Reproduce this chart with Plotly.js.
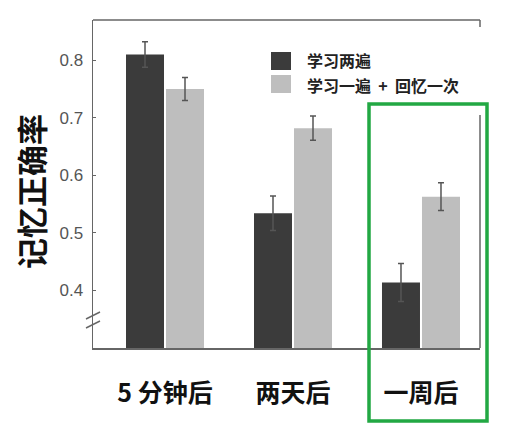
<!DOCTYPE html>
<html>
<head>
<meta charset="utf-8">
<script src="https://cdn.plot.ly/plotly-3.0.1.min.js"></script>
<style>
  body { margin: 0; background: #fff; }
  #chart { width: 511px; height: 445px; }
</style>
</head>
<body>
<div id="chart"></div>
<script>
// data
var categories = ['5 分钟后', '两天后', '一周后'];
var seriesNames = ['学习两遍', '学习一遍 + 回忆一次'];
var studyTwice = [0.81, 0.534, 0.414];
var studyTwiceErr = [0.022, 0.03, 0.033];
var studyRecall = [0.75, 0.682, 0.563];
var studyRecallErr = [0.02, 0.021, 0.024];
var yTicks = [0.4, 0.5, 0.6, 0.7, 0.8];

var darkColor = '#3b3b3b';
var lightColor = '#bebebe';
var cjk = '"Noto Sans CJK SC", "Noto Sans", sans-serif';

var xIdx = categories.map(function(c, i) { return i; });

var trace1 = {
    x: xIdx,
    y: studyTwice,
    name: seriesNames[0],
    type: 'bar',
    marker: { color: darkColor },
    error_y: { type: 'data', array: studyTwiceErr, color: '#555', thickness: 1.5, width: 3 },
    hoverinfo: 'skip'
};

var trace2 = {
    x: xIdx,
    y: studyRecall,
    name: seriesNames[1],
    type: 'bar',
    marker: { color: lightColor },
    error_y: { type: 'data', array: studyRecallErr, color: '#555', thickness: 1.5, width: 3 },
    hoverinfo: 'skip'
};

// paper helpers (plot area is 387 x 328 px, origin at 93,348)
function px(v) { return (v - 93) / 387; }
function py(v) { return (348 - v) / 328; }

var axisLine = { color: '#666', width: 1.5 };

var shapes = [
    // top spine and the broken right spine
    { type: 'line', xref: 'paper', yref: 'paper', x0: 0, x1: 1, y0: 1, y1: 1, line: axisLine },
    { type: 'line', xref: 'paper', yref: 'paper', x0: 1, x1: 1, y0: 1, y1: py(27), line: axisLine },
    { type: 'line', xref: 'paper', yref: 'paper', x0: 1, x1: 1, y0: 0, y1: py(115), line: axisLine },
    // axis break marks
    { type: 'line', xref: 'paper', yref: 'paper', x0: px(86), x1: px(100), y0: py(319), y1: py(312), line: axisLine },
    { type: 'line', xref: 'paper', yref: 'paper', x0: px(86), x1: px(100), y0: py(328), y1: py(321), line: axisLine },
    // legend swatches
    { type: 'rect', xref: 'paper', yref: 'paper', x0: px(271), x1: px(291), y0: py(52), y1: py(70),
      fillcolor: darkColor, line: { width: 0 } },
    { type: 'rect', xref: 'paper', yref: 'paper', x0: px(271), x1: px(291), y0: py(75), y1: py(93),
      fillcolor: lightColor, line: { width: 0 } },
    // green highlight box
    { type: 'rect', xref: 'paper', yref: 'paper', x0: px(369), x1: px(487), y0: py(104), y1: py(421),
      line: { color: '#22a843', width: 3.5 } }
];

var annotations = [
    { xref: 'paper', yref: 'paper', x: px(305), y: py(60), xanchor: 'left', yanchor: 'middle',
      text: '<b>' + seriesNames[0] + '</b>', showarrow: false,
      font: { family: cjk, size: 16, color: '#222' } },
    { xref: 'paper', yref: 'paper', x: px(305), y: py(85), xanchor: 'left', yanchor: 'middle',
      text: '<b>' + seriesNames[1].replace(' + ', '  +  ') + '</b>', showarrow: false,
      font: { family: cjk, size: 16, color: '#222' } },
    { xref: 'paper', yref: 'paper', x: px(30), y: py(191), xanchor: 'center', yanchor: 'middle',
      textangle: -90, text: '<b>记忆正确率</b>', showarrow: false,
      font: { family: cjk, size: 31, color: '#111' } }
];

var layout = {
    width: 511,
    height: 445,
    margin: { l: 93, r: 31, t: 20, b: 97 },
    paper_bgcolor: '#fff',
    plot_bgcolor: '#fff',
    showlegend: false,
    barmode: 'group',
    bargap: 0.375,
    bargroupgap: 0.05,
    xaxis: {
        range: [-0.5625, 2.461],
        tickmode: 'array',
        tickvals: xIdx,
        ticktext: categories.map(function(c) { return '<b>' + c + '</b>'; }),
        tickfont: { family: cjk, size: 25, color: '#111' },
        ticks: '',
        ticklabelstandoff: 22,
        showgrid: false,
        zeroline: false,
        showline: true,
        linecolor: '#666',
        linewidth: 1.5
    },
    yaxis: {
        range: [0.3, 0.87],
        tickmode: 'array',
        tickvals: yTicks,
        ticktext: yTicks.map(function(v) { return v.toFixed(1); }),
        tickfont: { family: 'Liberation Sans, Arial, sans-serif', size: 17, color: '#555' },
        ticks: 'inside',
        ticklen: 3,
        tickcolor: '#666',
        ticklabelstandoff: 5,
        showgrid: false,
        zeroline: false,
        showline: true,
        linecolor: '#666',
        linewidth: 1.5
    },
    shapes: shapes,
    annotations: annotations
};

Plotly.newPlot('chart', [trace1, trace2], layout, { displayModeBar: false, staticPlot: true });
</script>
</body>
</html>
